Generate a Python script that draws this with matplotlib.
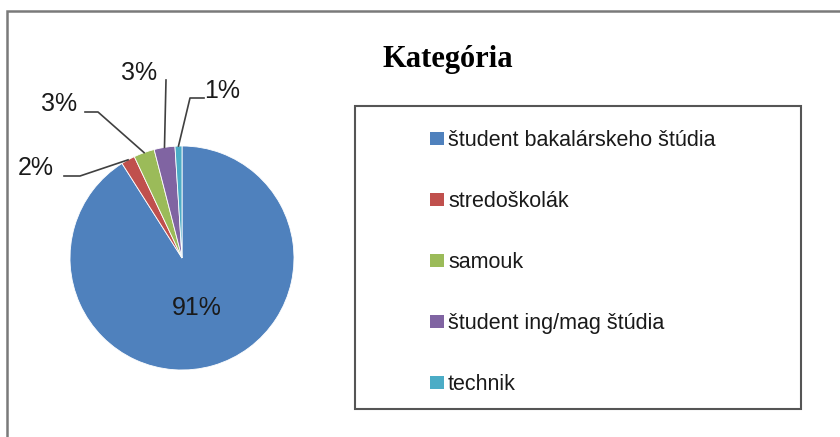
import numpy as np
import matplotlib.pyplot as plt
from matplotlib.patches import Rectangle

### data
kategorie = ['študent bakalárskeho štúdia', 'stredoškolák', 'samouk',
             'študent ing/mag štúdia', 'technik']
podiel = [91, 2, 3, 3, 1]  # [%]
farby = ['#4F81BD', '#C0504D', '#9BBB59', '#8064A2', '#4BACC6']

### layout (pixels of the 840x437 picture)
W, H = 840, 437
cx, cy, r = 182, 258, 112
# label centres and start of leader line
label_px = [(197, 308), (36, 168), (59, 104), (139, 73), (222, 91)]
leader_px = [None, [(64, 176), (80, 176)], [(85, 112), (98, 112)],
             [(166, 80), (166, 80)], [(204, 98), (190, 98)]]

def px2data(p):
    return ((p[0] - cx) / r, (cy - p[1]) / r)

plt.rcParams['font.family'] = ['Liberation Sans', 'DejaVu Sans']

fig = plt.figure(figsize=(W / 100, H / 100), dpi=100, facecolor='white')
ax = fig.add_axes([(cx - r) / W, (H - cy - r) / H, 2 * r / W, 2 * r / H])

wedges, _ = ax.pie(podiel, colors=farby, startangle=90, counterclock=False,
                   radius=1, wedgeprops=dict(edgecolor='white', linewidth=0.6))
ax.set_xlim(-1, 1)
ax.set_ylim(-1, 1)
ax.set_aspect('equal')
ax.axis('off')

### percentage labels + leader lines
for i, w in enumerate(wedges):
    tx, ty = px2data(label_px[i])
    ax.text(tx, ty, '{}%'.format(podiel[i]), ha='center', va='center',
            fontsize=18, color='#1a1a1a', clip_on=False)
    if leader_px[i] is not None:
        mid = np.deg2rad((w.theta1 + w.theta2) / 2)
        p0 = px2data(leader_px[i][0])
        p1 = px2data(leader_px[i][1])
        xs = [p0[0], p1[0], np.cos(mid)]
        ys = [p0[1], p1[1], np.sin(mid)]
        ax.plot(xs, ys, color='#404040', lw=1.2, clip_on=False)

### title
fig.text(448 / W, 1 - 60 / H, 'Kategória', fontfamily='Liberation Serif',
         fontweight='bold', fontsize=22, ha='center', va='center')

### legend
leg = ax.legend(wedges, kategorie, loc='upper left',
                bbox_to_anchor=(430 / W, 1 - 130 / H), bbox_transform=fig.transFigure,
                frameon=False, fontsize=15.5, handlelength=0.64, handleheight=0.52,
                handletextpad=0.2, labelspacing=1.86, borderpad=0,
                borderaxespad=0)
for t in leg.get_texts():
    t.set_color('#1a1a1a')
for h in leg.legend_handles:
    h.set_edgecolor('none')

# legend box
fig.add_artist(Rectangle((355 / W, 1 - 409 / H), 446 / W, 303 / H, fill=False,
                         ec='#555555', lw=1.5, transform=fig.transFigure))
# outer chart frame (only top and left edge visible)
fig.add_artist(Rectangle((7 / W, -0.1), 1.2, 1.1 - 11 / H, fill=False,
                         ec='#7a7a7a', lw=1.8, transform=fig.transFigure))

plt.savefig('out.png', dpi=100, facecolor='white')
